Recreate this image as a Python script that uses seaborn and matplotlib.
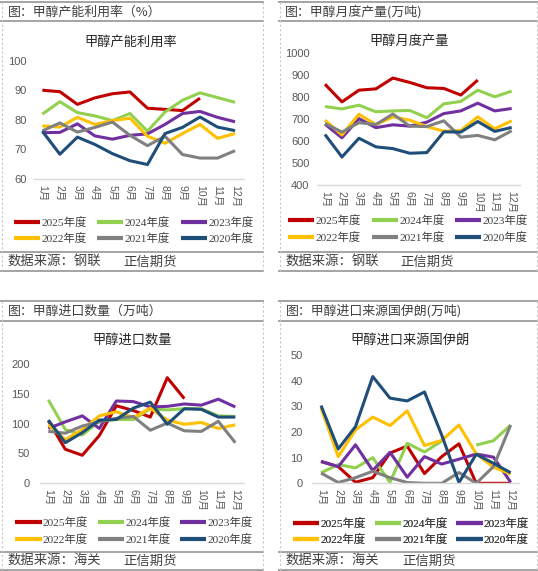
import numpy as np
import pandas as pd
import matplotlib
matplotlib.use("Agg")
import matplotlib.pyplot as plt
import seaborn as sns
from matplotlib.lines import Line2D
from matplotlib.font_manager import FontProperties

sns.set_style("white")
plt.rcParams['font.family'] = ['Noto Sans CJK SC', 'DejaVu Sans']

# ---------------- data ----------------
months = ["1月", "2月", "3月", "4月", "5月", "6月", "7月", "8月", "9月", "10月", "11月", "12月"]
years = ["2025年度", "2024年度", "2023年度", "2022年度", "2021年度", "2020年度"]
colors = ["#C00000", "#92D050", "#7030A0", "#FFC000", "#808080", "#1F4E79"]
NA = np.nan

# 甲醇产能利用率 (%)
util_2025 = [90.1, 89.6, 85.3, 87.5, 88.9, 89.5, 84.0, 83.6, 83.2, 87.4]
util_2024 = [82.0, 86.2, 82.5, 81.4, 79.8, 82.2, 76.2, 82.7, 86.7, 89.2, 87.6, 86.0]
util_2023 = [75.7, 75.8, 78.7, 74.6, 73.5, 74.8, 75.3, 78.5, 82.2, 82.9, 80.9, 79.4]
util_2022 = [78.0, 77.6, 80.9, 78.5, 79.8, 80.6, 74.5, 72.1, 75.4, 78.5, 73.8, 75.4]
util_2021 = [76.3, 79.0, 75.9, 77.5, 79.3, 74.8, 71.3, 74.5, 68.3, 67.1, 67.1, 69.6]
util_2020 = [76.2, 68.4, 74.2, 71.7, 68.6, 66.2, 64.9, 75.4, 77.5, 81.0, 77.6, 76.4]

# 甲醇月度产量 (万吨)
prod_2025 = [857, 777, 830, 836, 885, 865, 841, 838, 808, 876]
prod_2024 = [756, 745, 762, 732, 736, 738, 705, 768, 779, 830, 800, 826]
prod_2023 = [676, 614, 701, 660, 673, 667, 685, 724, 736, 771, 736, 747]
prod_2022 = [694, 627, 721, 674, 709, 694, 665, 644, 647, 709, 655, 691]
prod_2021 = [679, 640, 683, 674, 722, 667, 665, 691, 617, 625, 605, 646]
prod_2020 = [629, 527, 612, 573, 565, 544, 547, 641, 640, 688, 643, 661]

# 甲醇进口数量 (万吨)
imp_2025 = [105, 57, 47, 80, 130, 122, 111, 177, 142]
imp_2024 = [140, 90, 81, 104, 107, 107, 125, 123, 125, 125, 113, 112]
imp_2023 = [92, 103, 113, 92, 138, 137, 128, 129, 133, 131, 141, 128]
imp_2022 = [98, 73, 90, 113, 120, 110, 126, 106, 99, 102, 92, 98]
imp_2021 = [87, 84, 96, 103, 109, 112, 89, 101, 88, 87, 104, 68]
imp_2020 = [106, 68, 85, 106, 107, 126, 136, 99, 125, 124, 111, 111]

# 甲醇进口来源国伊朗 (万吨)
iran_2025 = [8.5, 6.5, 0.4, 2.2, 11.8, 14.5, 3.8, 10.4, 15.4, 0.0, 0.0, 0.0]
iran_2024 = [4.1, 7.3, 6.0, 10.0, 0.4, 15.6, 12.2, 16.4, NA, 14.9, 16.6, 22.7]
iran_2023 = [8.5, 6.5, 15.0, 5.0, 12.1, 2.4, 10.4, 7.5, 9.4, 11.4, 10.2, 0.4]
iran_2022 = [29.4, 10.4, 20.8, 25.8, 22.5, 28.2, 14.7, 16.7, 22.7, 11.5, 6.3, 3.6]
iran_2021 = [4.0, 0.3, 2.2, 4.7, 2.2, 0.3, 0.0, 0.0, 4.2, 0.0, 6.5, 22.7]
iran_2020 = [30.3, 13.4, 22.1, 41.6, 33.2, 32.1, 35.6, 18.8, 0.3, 11.3, 7.8, 4.1]

W, H = 538, 571
fig = plt.figure(figsize=(W / 100, H / 100), dpi=100)

# overlay axes in pixel coordinates for frames / texts
ov = fig.add_axes([0, 0, 1, 1], zorder=-1)
ov.set_xlim(0, W)
ov.set_ylim(H, 0)
ov.axis("off")
ov.patch.set_alpha(0)

SANS = ['Liberation Sans', 'Noto Sans CJK SC']
SERIF = ['Liberation Serif', 'Noto Sans CJK SC']


def add_ax(left, top, right, bottom):
    return fig.add_axes([left / W, 1 - bottom / H, (right - left) / W, (bottom - top) / H])


def draw_panel(ax, series, ylim, yticks, ypad):
    for name, vals, c in zip(years, series, colors):
        v = np.array(vals, dtype=float)
        df = pd.DataFrame({"m": np.arange(len(v)), "v": v})
        df["seg"] = df["v"].isna().cumsum()
        df = df[df["v"].notna()]
        sns.lineplot(data=df, x="m", y="v", units="seg", estimator=None, color=c,
                     linewidth=2.2, ax=ax, legend=False, solid_joinstyle="round",
                     solid_capstyle="butt")
    ax.set_xlim(-0.5, 11.5)
    ax.set_ylim(*ylim)
    ax.set_yticks(yticks)
    ax.set_yticklabels([str(t) for t in yticks], family=SANS, fontsize=8, color="#595959")
    ax.set_xticks(range(12))
    ax.set_xticklabels(months, rotation=270, family=SANS, fontsize=7.5, color="#595959",
                       va="top", ha="center")
    ax.tick_params(axis="both", length=0)
    ax.tick_params(axis="y", pad=ypad)
    ax.tick_params(axis="x", pad=4)
    ax.set_xlabel("")
    ax.set_ylabel("")
    for s in ["top", "right", "left"]:
        ax.spines[s].set_visible(False)
    ax.spines["bottom"].set_color("#d9d9d9")
    ax.spines["bottom"].set_linewidth(1.0)
    ax.grid(False)
    ax.patch.set_alpha(0)


def frame(x0, x1, ytop, yhdr, yft, ybot):
    lc = "#8c8c8c"
    for y in (ytop, yhdr, yft, ybot):
        ov.plot([x0, x1], [y, y], color=lc, lw=1.1, solid_capstyle="butt")
    for x in (x0 + 1.5, x1 - 1):
        ov.plot([x, x], [ytop, ybot], color="#c8c8c8", lw=0.8, ls=(0, (2, 2)))


def legend(cx, cy, spacing):
    handles = [Line2D([0], [0], color=c, lw=3.0, solid_capstyle="butt") for c in colors]
    order = [0, 3, 1, 4, 2, 5]  # row-wise fill for 3 columns x 2 rows
    leg = ov.legend([handles[i] for i in order], [years[i] for i in order],
                    loc="center", bbox_to_anchor=(cx, cy),
                    bbox_transform=ov.transData, ncol=3, frameon=False,
                    handlelength=2.3, handletextpad=0.1, columnspacing=spacing,
                    labelspacing=0.45, borderpad=0, borderaxespad=0,
                    prop=FontProperties(family=SERIF, size=8.2), labelcolor="#404040")
    ov.add_artist(leg)


# frames
frame(0, 264, 2, 21, 252, 271)
frame(278, 538, 2, 21, 252, 271)
frame(0, 264, 301, 321, 552, 570)
frame(278, 538, 301, 321, 552, 570)

# headers / footers
hdr_kw = dict(fontsize=9.3, color="#404040", va="center", ha="left")
ov.text(8, 12, "图：甲醇产能利用率（%）", **hdr_kw)
ov.text(285, 12, "图：甲醇月度产量(万吨)", **hdr_kw)
ov.text(8, 311, "图：甲醇进口数量（万吨）", **hdr_kw)
ov.text(286, 311, "图：甲醇进口来源国伊朗(万吨)", **hdr_kw)

ft_kw = dict(fontsize=9.6, color="#404040", va="center", ha="left")
ov.text(8, 262, "数据来源：钢联", **ft_kw)
ov.text(123, 262, "正信期货", **ft_kw)
ov.text(286, 262, "数据来源：钢联", **ft_kw)
ov.text(400, 262, "正信期货", **ft_kw)
ov.text(8, 561, "数据来源：海关", **ft_kw)
ov.text(123, 561, "正信期货", **ft_kw)
ov.text(286, 561, "数据来源：海关", **ft_kw)
ov.text(402, 561, "正信期货", **ft_kw)

# titles
tt_kw = dict(fontsize=9.5, color="#262626", va="center", ha="center")
ov.text(131, 42, "甲醇产能利用率", **tt_kw)
ov.text(409, 41, "甲醇月度产量", **tt_kw)
ov.text(132, 340, "甲醇进口数量", **tt_kw)
ov.text(410, 340, "甲醇进口来源国伊朗", **tt_kw)

# panels
ax1 = add_ax(33.6, 61, 243.8, 179)
draw_panel(ax1, [util_2025, util_2024, util_2023, util_2022, util_2021, util_2020],
           (60, 100), [60, 70, 80, 90, 100], 5)
ax2 = add_ax(316.5, 52.7, 520.2, 185)
draw_panel(ax2, [prod_2025, prod_2024, prod_2023, prod_2022, prod_2021, prod_2020],
           (400, 1000), [400, 500, 600, 700, 800, 900, 1000], 5)
ax3 = add_ax(39.8, 364, 243.8, 483.3)
draw_panel(ax3, [imp_2025, imp_2024, imp_2023, imp_2022, imp_2021, imp_2020],
           (0, 200), [0, 50, 100, 150, 200], 7)
ax4 = add_ax(312.4, 355, 519.3, 483.3)
draw_panel(ax4, [iran_2025, iran_2024, iran_2023, iran_2022, iran_2021, iran_2020],
           (0, 50), [0, 10, 20, 30, 40, 50], 7)

# legends
legend(133.5, 230.5, 0.95)
legend(408, 229, 0.95)
legend(134, 531, 0.85)
legend(411, 531.5, 0.8)

fig.savefig("out.png", dpi=100)
